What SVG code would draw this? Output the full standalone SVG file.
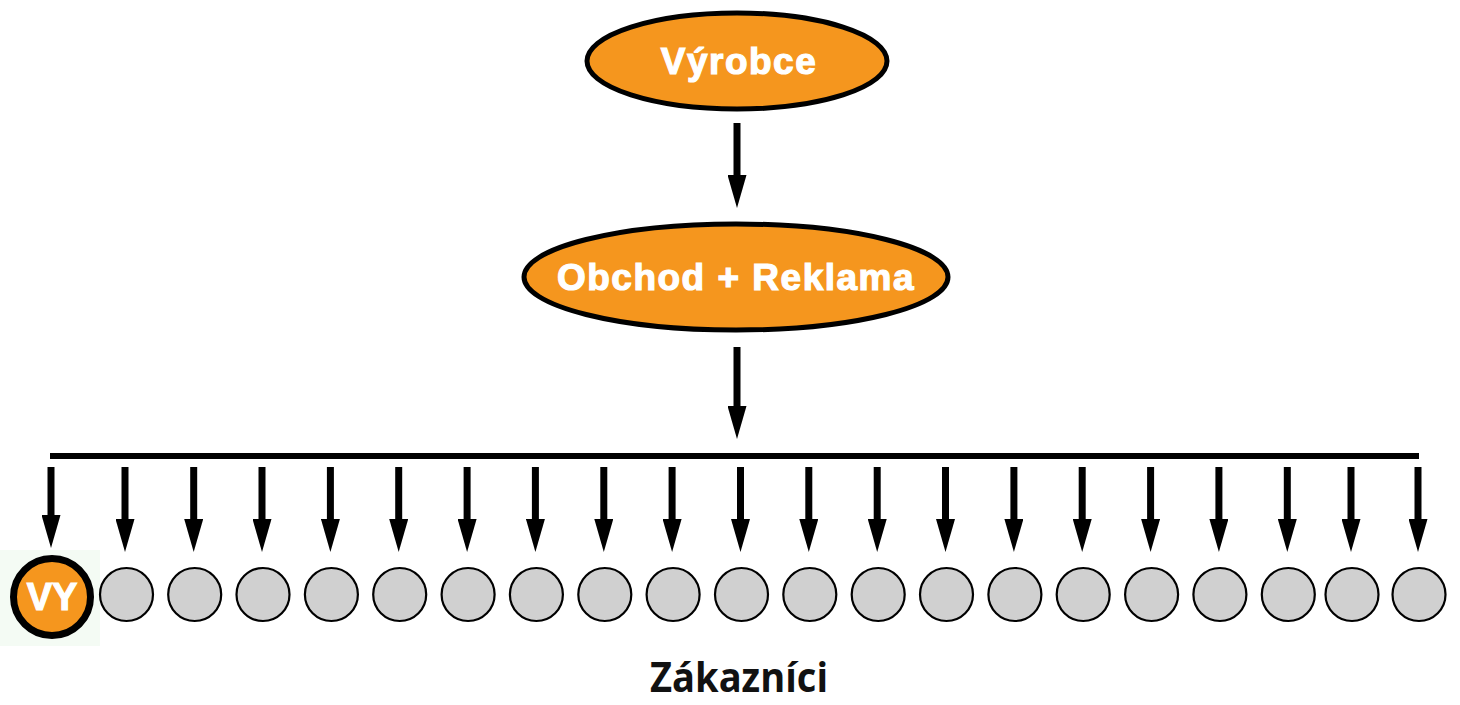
<svg xmlns="http://www.w3.org/2000/svg" width="1460" height="705" viewBox="0 0 1460 705">
<style>
.or{fill:#f5961e;stroke:#000;stroke-width:5}
.lbl{font-family:"Liberation Sans",Arial,sans-serif;font-weight:bold;fill:#fff;stroke:#fff;stroke-width:1.2;text-anchor:middle;font-size:37px;letter-spacing:1.5px}
.cust{fill:#d0d0d0;stroke:#000;stroke-width:2.2}
.ar{stroke:#000;stroke-width:7;marker-end:url(#ah)}
</style>
<defs>
<marker id="ah" markerUnits="userSpaceOnUse" markerWidth="33" markerHeight="19" refX="1" refY="9.5" orient="auto" viewBox="0 0 33 19">
<path d="M0,0 L33,9.5 L0,19 z" fill="#000"/>
</marker>
</defs>
<rect width="1460" height="705" fill="#fff"/>
<g id="vyrobce">
<ellipse class="or" cx="737" cy="61" rx="150" ry="48"/>
<text class="lbl" x="739" y="74">Výrobce</text>
</g>
<g id="obchod">
<ellipse class="or" cx="736" cy="277" rx="212" ry="53"/>
<text class="lbl" x="736" y="290">Obchod + Reklama</text>
</g>
<g id="connectors">
<line class="ar" x1="737" y1="123" x2="737" y2="176"/>
<line class="ar" x1="737" y1="347" x2="737" y2="407"/>
<rect x="50" y="453" width="1369" height="6" fill="#000"/>
<line class="ar" x1="51" y1="467" x2="51" y2="516"/>
<line class="ar" x1="125" y1="467" x2="125" y2="520"/>
<line class="ar" x1="193.7" y1="467" x2="193.7" y2="520"/>
<line class="ar" x1="262" y1="467" x2="262" y2="520"/>
<line class="ar" x1="330.4" y1="467" x2="330.4" y2="520"/>
<line class="ar" x1="398.7" y1="467" x2="398.7" y2="520"/>
<line class="ar" x1="467.1" y1="467" x2="467.1" y2="520"/>
<line class="ar" x1="535.4" y1="467" x2="535.4" y2="520"/>
<line class="ar" x1="603.8" y1="467" x2="603.8" y2="520"/>
<line class="ar" x1="672.1" y1="467" x2="672.1" y2="520"/>
<line class="ar" x1="740.5" y1="467" x2="740.5" y2="520"/>
<line class="ar" x1="808.8" y1="467" x2="808.8" y2="520"/>
<line class="ar" x1="877.2" y1="467" x2="877.2" y2="520"/>
<line class="ar" x1="945.5" y1="467" x2="945.5" y2="520"/>
<line class="ar" x1="1013.9" y1="467" x2="1013.9" y2="520"/>
<line class="ar" x1="1082.2" y1="467" x2="1082.2" y2="520"/>
<line class="ar" x1="1150.6" y1="467" x2="1150.6" y2="520"/>
<line class="ar" x1="1218.9" y1="467" x2="1218.9" y2="520"/>
<line class="ar" x1="1287.3" y1="467" x2="1287.3" y2="520"/>
<line class="ar" x1="1351" y1="467" x2="1351" y2="520"/>
<line class="ar" x1="1418" y1="467" x2="1418" y2="520"/>
</g>
<g id="vy">
<rect x="0" y="550" width="100" height="96" fill="#f4fbf4"/>
<circle cx="52" cy="597" r="38.5" fill="#f5961e" stroke="#000" stroke-width="7"/>
<text class="lbl" x="52" y="610" style="letter-spacing:0;font-size:38px">VY</text>
</g>
<g id="customers">
<circle class="cust" cx="126.5" cy="594.5" r="26.5"/>
<circle class="cust" cx="194.7" cy="594.5" r="26.5"/>
<circle class="cust" cx="263" cy="594.5" r="26.5"/>
<circle class="cust" cx="331.4" cy="594.5" r="26.5"/>
<circle class="cust" cx="399.7" cy="594.5" r="26.5"/>
<circle class="cust" cx="468.1" cy="594.5" r="26.5"/>
<circle class="cust" cx="536.4" cy="594.5" r="26.5"/>
<circle class="cust" cx="604.8" cy="594.5" r="26.5"/>
<circle class="cust" cx="673.1" cy="594.5" r="26.5"/>
<circle class="cust" cx="741.5" cy="594.5" r="26.5"/>
<circle class="cust" cx="809.8" cy="594.5" r="26.5"/>
<circle class="cust" cx="878.2" cy="594.5" r="26.5"/>
<circle class="cust" cx="946.5" cy="594.5" r="26.5"/>
<circle class="cust" cx="1014.9" cy="594.5" r="26.5"/>
<circle class="cust" cx="1083.2" cy="594.5" r="26.5"/>
<circle class="cust" cx="1151.6" cy="594.5" r="26.5"/>
<circle class="cust" cx="1219.9" cy="594.5" r="26.5"/>
<circle class="cust" cx="1288.3" cy="594.5" r="26.5"/>
<circle class="cust" cx="1352" cy="594.5" r="26.5"/>
<circle class="cust" cx="1419" cy="594.5" r="26.5"/>
</g>
<g id="zakaznici">
<text x="739" y="692" font-family="'Open Sans','Noto Sans',sans-serif" font-weight="bold" font-size="41" fill="#111" text-anchor="middle" textLength="178" lengthAdjust="spacingAndGlyphs">Zákazníci</text>
</g>
</svg>
